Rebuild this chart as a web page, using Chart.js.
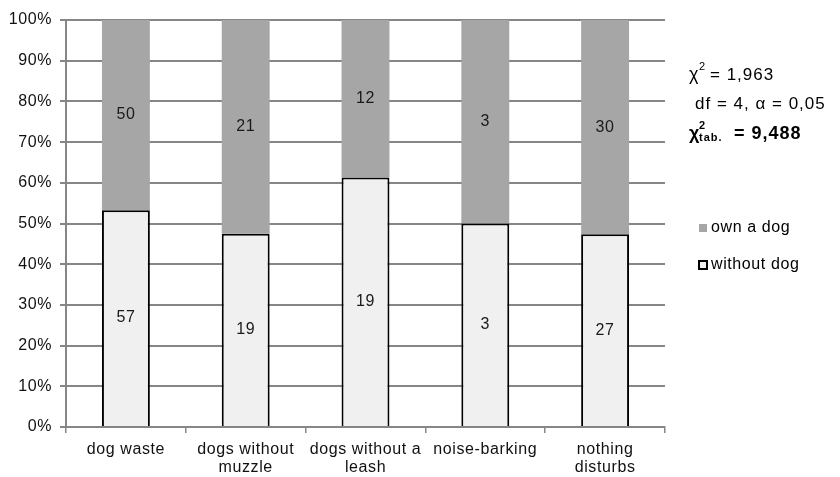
<!DOCTYPE html>
<html>
<head>
<meta charset="utf-8">
<script src="https://cdn.jsdelivr.net/npm/chart.js@4"></script>
<style>
  body { margin: 0; background: #fff; }
  #wrap { width: 840px; height: 477px; }
</style>
</head>
<body>
<div id="wrap"><canvas id="myChart"></canvas></div>
<script>
const categories = ['dog waste', ['dogs without', 'muzzle'], ['dogs without a', 'leash'], 'noise-barking', ['nothing', 'disturbs']];
const ownDog = [50, 21, 12, 3, 30];
const withoutDog = [57, 19, 19, 3, 27];
const yTicks = [0, 10, 20, 30, 40, 50, 60, 70, 80, 90, 100];

const font = 'Liberation Sans, Arial, sans-serif';

// share of each group in the category
const pctOwn = ownDog.map((v, i) => v / (v + withoutDog[i]) * 100);
const pctWithout = withoutDog.map((v, i) => v / (v + ownDog[i]) * 100);

const ctx = document.getElementById('myChart');

// excel-like wide text
const spacing = {
    id: 'spacing',
    beforeDraw(chart) {
        chart.ctx.letterSpacing = '0.6px';
    }
};

const valueLabels = {
    id: 'valueLabels',
    afterDatasetsDraw(chart) {
        const c = chart.ctx;
        c.save();
        c.letterSpacing = '0.6px';
        c.font = '16px ' + font;
        c.fillStyle = '#1a1a1a';
        c.textAlign = 'center';
        c.textBaseline = 'middle';
        chart.data.datasets.forEach((ds, di) => {
            const meta = chart.getDatasetMeta(di);
            meta.data.forEach((bar, i) => {
                const y = (bar.y + bar.base) / 2;
                c.fillText(ds.counts[i], bar.x, y);
            });
        });
        // axis line goes over the bar bottoms
        const xs = chart.scales.x;
        c.strokeStyle = '#868686';
        c.lineWidth = 2;
        c.beginPath();
        c.moveTo(xs.left, xs.top);
        c.lineTo(xs.right, xs.top);
        c.stroke();
        c.restore();
    }
};

const sideText = {
    id: 'sideText',
    afterDraw(chart) {
        const c = chart.ctx;
        c.save();
        c.fillStyle = '#000';
        c.textBaseline = 'middle';
        c.textAlign = 'left';
        c.letterSpacing = '1px';

        // chi square line
        c.font = '18px ' + font;
        c.fillText('χ', 689, 75);
        c.font = '11px ' + font;
        c.fillText('2', 699, 67);
        c.font = '17px ' + font;
        c.fillText('= 1,963', 710, 75);

        c.fillText('df = 4, α = 0,05', 695, 104);

        c.font = 'bold 18px ' + font;
        c.fillText('χ', 689, 134);
        c.font = 'bold 11px ' + font;
        c.fillText('2', 699, 126);
        c.fillText('tab.', 699, 138);
        c.font = 'bold 18px ' + font;
        c.fillText('= 9,488', 734, 134);

        // legend
        const ds = chart.data.datasets;
        c.letterSpacing = '0.6px';
        c.font = '16px ' + font;
        c.fillStyle = ds[1].backgroundColor;
        c.fillRect(699, 224, 8, 8);
        c.fillStyle = '#000';
        c.fillText(ds[1].label, 711, 228);

        c.fillStyle = ds[0].backgroundColor;
        c.fillRect(699, 261, 8, 8);
        c.strokeStyle = '#000';
        c.lineWidth = 2;
        c.strokeRect(699, 261, 8, 8);
        c.fillStyle = '#000';
        c.fillText(ds[0].label, 711, 265);
        c.restore();
    }
};

const myChart = new Chart(ctx, {
    type: 'bar',
    data: {
        labels: categories,
        datasets: [{
            label: 'without dog',
            data: pctWithout,
            counts: withoutDog,
            backgroundColor: '#f0f0f0',
            borderColor: '#000',
            borderWidth: 2,
            borderSkipped: 'bottom',
            barPercentage: 0.4,
            categoryPercentage: 1
        }, {
            label: 'own a dog',
            data: pctOwn,
            counts: ownDog,
            backgroundColor: '#a6a6a6',
            borderWidth: 0,
            barPercentage: 0.4,
            categoryPercentage: 1
        }]
    },
    options: {
        responsive: true,
        maintainAspectRatio: false,
        animation: false,
        layout: { padding: { top: 20, right: 175, left: 0, bottom: 0 } },
        plugins: {
            legend: { display: false },
            tooltip: { enabled: false }
        },
        scales: {
            x: {
                stacked: true,
                grid: { offset: true, drawOnChartArea: false, color: '#868686', lineWidth: 1.5, tickLength: 6 },
                border: { color: '#868686', width: 2 },
                ticks: { color: '#111', font: { family: font, size: 16, lineHeight: 1.1 }, maxRotation: 0, padding: 8 },
                afterFit(scale) { scale.height = 50; }
            },
            y: {
                stacked: true,
                min: 0,
                max: 100,
                afterBuildTicks(scale) { scale.ticks = yTicks.map(v => ({ value: v })); },
                grid: { color: '#868686', lineWidth: 2, tickLength: 6 },
                border: { color: '#868686', width: 2 },
                ticks: {
                    color: '#111',
                    font: { family: font, size: 16 },
                    padding: 8,
                    callback: v => v + '%'
                },
                afterFit(scale) { scale.width = 66; }
            }
        }
    },
    plugins: [spacing, valueLabels, sideText]
});
</script>
</body>
</html>
